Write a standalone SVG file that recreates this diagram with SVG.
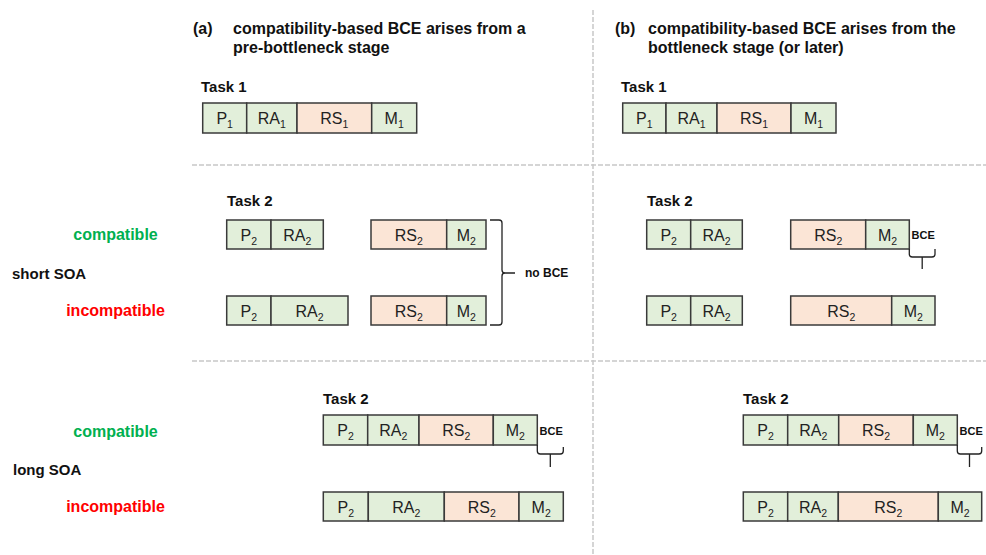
<svg xmlns="http://www.w3.org/2000/svg" width="986" height="555" viewBox="0 0 986 555">
<style>
text{font-family:"Liberation Sans",Arial,sans-serif;}
.h{font-size:16px;font-weight:bold;fill:#111;}
.t{font-size:15px;font-weight:bold;fill:#111;}
.lbl{font-size:15px;font-weight:bold;fill:#111;}
.cmp{font-size:16px;font-weight:bold;fill:#00B050;text-anchor:middle;}
.inc{font-size:16px;font-weight:bold;fill:#FF0000;text-anchor:middle;}
.g{fill:#E2EFDA;stroke:#3a3a3a;stroke-width:1.5;}
.r{fill:#FBE5D6;stroke:#3a3a3a;stroke-width:1.5;}
.bx{font-size:16px;fill:#222;text-anchor:middle;}
.sub{font-size:10.5px;}
.div{stroke:#c8c8c8;stroke-width:1.5;stroke-dasharray:5 2;fill:none;}
.br{fill:none;stroke:#222;stroke-width:1.3;}
.bce{font-size:11px;font-weight:bold;fill:#111;}
.nb{font-size:12px;font-weight:bold;fill:#111;}
</style>

<g id="dividers">
<line class="div" x1="593" y1="10" x2="593" y2="555"/>
<line class="div" x1="192" y1="165" x2="986" y2="165"/>
<line class="div" x1="192" y1="361" x2="986" y2="361"/>
</g>

<g id="headers">
<text class="h" x="193" y="34">(a)</text>
<text class="h" x="233" y="34">compatibility-based BCE arises from a</text>
<text class="h" x="233" y="53">pre-bottleneck stage</text>
<text class="h" x="615" y="34">(b)</text>
<text class="h" x="648" y="34">compatibility-based BCE arises from the</text>
<text class="h" x="648" y="53">bottleneck stage (or later)</text>
</g>

<g id="row-labels">
<text class="cmp" x="115.5" y="240">compatible</text>
<text class="lbl" x="12" y="279">short SOA</text>
<text class="inc" x="115.5" y="316">incompatible</text>
<text class="cmp" x="115.5" y="437">compatible</text>
<text class="lbl" x="13" y="475">long SOA</text>
<text class="inc" x="115.5" y="512">incompatible</text>
</g>

<g id="task-labels">
<text class="t" x="201" y="92">Task 1</text>
<text class="t" x="621" y="92">Task 1</text>
<text class="t" x="227" y="206">Task 2</text>
<text class="t" x="647" y="206">Task 2</text>
<text class="t" x="323" y="404">Task 2</text>
<text class="t" x="743" y="404">Task 2</text>
</g>

<g id="a-task1">
<rect class="g" x="202.7" y="103" width="44" height="30"/>
<rect class="g" x="246.7" y="103" width="50.3" height="30"/>
<rect class="r" x="297" y="103" width="74.7" height="30"/>
<rect class="g" x="371.7" y="103" width="45" height="30"/>
<text class="bx" x="224.7" y="124">P<tspan class="sub" dy="4">1</tspan></text>
<text class="bx" x="271.8" y="124">RA<tspan class="sub" dy="4">1</tspan></text>
<text class="bx" x="334.3" y="124">RS<tspan class="sub" dy="4">1</tspan></text>
<text class="bx" x="394.2" y="124">M<tspan class="sub" dy="4">1</tspan></text>
</g>

<g id="b-task1">
<rect class="g" x="622.7" y="103" width="43.3" height="30"/>
<rect class="g" x="666" y="103" width="51" height="30"/>
<rect class="r" x="717" y="103" width="74" height="30"/>
<rect class="g" x="791" y="103" width="45" height="30"/>
<text class="bx" x="644.3" y="124">P<tspan class="sub" dy="4">1</tspan></text>
<text class="bx" x="691.5" y="124">RA<tspan class="sub" dy="4">1</tspan></text>
<text class="bx" x="754" y="124">RS<tspan class="sub" dy="4">1</tspan></text>
<text class="bx" x="813.5" y="124">M<tspan class="sub" dy="4">1</tspan></text>
</g>

<g id="a-short-comp">
<rect class="g" x="226.7" y="220" width="44.3" height="29"/>
<rect class="g" x="271" y="220" width="52.3" height="29"/>
<rect class="r" x="371" y="220" width="75.7" height="29"/>
<rect class="g" x="446.7" y="220" width="39.3" height="29"/>
<text class="bx" x="248.8" y="240.5">P<tspan class="sub" dy="4">2</tspan></text>
<text class="bx" x="297.2" y="240.5">RA<tspan class="sub" dy="4">2</tspan></text>
<text class="bx" x="408.8" y="240.5">RS<tspan class="sub" dy="4">2</tspan></text>
<text class="bx" x="466.3" y="240.5">M<tspan class="sub" dy="4">2</tspan></text>
</g>

<g id="a-short-inc">
<rect class="g" x="226.7" y="296" width="44.3" height="29"/>
<rect class="g" x="271" y="296" width="77" height="29"/>
<rect class="r" x="371" y="296" width="75.7" height="29"/>
<rect class="g" x="446.7" y="296" width="39.3" height="29"/>
<text class="bx" x="248.8" y="316.5">P<tspan class="sub" dy="4">2</tspan></text>
<text class="bx" x="309.5" y="316.5">RA<tspan class="sub" dy="4">2</tspan></text>
<text class="bx" x="408.8" y="316.5">RS<tspan class="sub" dy="4">2</tspan></text>
<text class="bx" x="466.3" y="316.5">M<tspan class="sub" dy="4">2</tspan></text>
</g>

<g id="b-short-comp">
<rect class="g" x="646.7" y="220" width="44" height="29"/>
<rect class="g" x="690.7" y="220" width="51.6" height="29"/>
<rect class="r" x="790.7" y="220" width="75" height="29"/>
<rect class="g" x="865.7" y="220" width="43.6" height="29"/>
<text class="bx" x="668.7" y="240.5">P<tspan class="sub" dy="4">2</tspan></text>
<text class="bx" x="716.5" y="240.5">RA<tspan class="sub" dy="4">2</tspan></text>
<text class="bx" x="828.2" y="240.5">RS<tspan class="sub" dy="4">2</tspan></text>
<text class="bx" x="887.5" y="240.5">M<tspan class="sub" dy="4">2</tspan></text>
</g>

<g id="b-short-inc">
<rect class="g" x="646.7" y="296" width="44" height="29"/>
<rect class="g" x="690.7" y="296" width="51.6" height="29"/>
<rect class="r" x="790.7" y="296" width="101" height="29"/>
<rect class="g" x="891.7" y="296" width="43.3" height="29"/>
<text class="bx" x="668.7" y="316.5">P<tspan class="sub" dy="4">2</tspan></text>
<text class="bx" x="716.5" y="316.5">RA<tspan class="sub" dy="4">2</tspan></text>
<text class="bx" x="841.2" y="316.5">RS<tspan class="sub" dy="4">2</tspan></text>
<text class="bx" x="913.3" y="316.5">M<tspan class="sub" dy="4">2</tspan></text>
</g>

<g id="a-long-comp">
<rect class="g" x="323.3" y="415" width="44.4" height="30"/>
<rect class="g" x="367.7" y="415" width="51.3" height="30"/>
<rect class="r" x="419" y="415" width="74.3" height="30"/>
<rect class="g" x="493.3" y="415" width="44" height="30"/>
<text class="bx" x="345.5" y="436">P<tspan class="sub" dy="4">2</tspan></text>
<text class="bx" x="393.3" y="436">RA<tspan class="sub" dy="4">2</tspan></text>
<text class="bx" x="456.2" y="436">RS<tspan class="sub" dy="4">2</tspan></text>
<text class="bx" x="515.3" y="436">M<tspan class="sub" dy="4">2</tspan></text>
</g>

<g id="a-long-inc">
<rect class="g" x="323.3" y="492" width="45" height="29"/>
<rect class="g" x="368.3" y="492" width="76" height="29"/>
<rect class="r" x="444.3" y="492" width="74.7" height="29"/>
<rect class="g" x="519" y="492" width="44.3" height="29"/>
<text class="bx" x="345.8" y="512.5">P<tspan class="sub" dy="4">2</tspan></text>
<text class="bx" x="406.3" y="512.5">RA<tspan class="sub" dy="4">2</tspan></text>
<text class="bx" x="481.7" y="512.5">RS<tspan class="sub" dy="4">2</tspan></text>
<text class="bx" x="541.2" y="512.5">M<tspan class="sub" dy="4">2</tspan></text>
</g>

<g id="b-long-comp">
<rect class="g" x="743.3" y="415" width="44.4" height="30"/>
<rect class="g" x="787.7" y="415" width="51" height="30"/>
<rect class="r" x="838.7" y="415" width="74.6" height="30"/>
<rect class="g" x="913.3" y="415" width="44" height="30"/>
<text class="bx" x="765.5" y="436">P<tspan class="sub" dy="4">2</tspan></text>
<text class="bx" x="813.2" y="436">RA<tspan class="sub" dy="4">2</tspan></text>
<text class="bx" x="876" y="436">RS<tspan class="sub" dy="4">2</tspan></text>
<text class="bx" x="935.3" y="436">M<tspan class="sub" dy="4">2</tspan></text>
</g>

<g id="b-long-inc">
<rect class="g" x="743.3" y="492" width="44.4" height="29"/>
<rect class="g" x="787.7" y="492" width="50.6" height="29"/>
<rect class="r" x="838.3" y="492" width="100" height="29"/>
<rect class="g" x="938.3" y="492" width="43.4" height="29"/>
<text class="bx" x="765.5" y="512.5">P<tspan class="sub" dy="4">2</tspan></text>
<text class="bx" x="813" y="512.5">RA<tspan class="sub" dy="4">2</tspan></text>
<text class="bx" x="888.3" y="512.5">RS<tspan class="sub" dy="4">2</tspan></text>
<text class="bx" x="960" y="512.5">M<tspan class="sub" dy="4">2</tspan></text>
</g>

<g id="connectors">
<path class="br" d="M490,220 H499 Q502,220 502,223 V270 Q502,273 505,273 H515 M505,273 Q502,273 502,276 V322 Q502,325 499,325 H490"/>
<path class="br" d="M909.3,249 V254 Q909.3,257 912.3,257 H932 Q935,257 935,254 V249 M922.2,257 V269"/>
<path class="br" d="M537.3,445 V451 Q537.3,454 540.3,454 H560.3 Q563.3,454 563.3,451 V447 M550.3,454 V467"/>
<path class="br" d="M957.3,445 V451 Q957.3,454 960.3,454 H978.7 Q981.7,454 981.7,451 V447 M969.5,454 V467"/>
</g>

<g id="bracket-labels">
<text class="nb" x="525" y="277">no BCE</text>
<text class="bce" x="911.5" y="239">BCE</text>
<text class="bce" x="539.5" y="435">BCE</text>
<text class="bce" x="959.5" y="435">BCE</text>
</g>
</svg>
